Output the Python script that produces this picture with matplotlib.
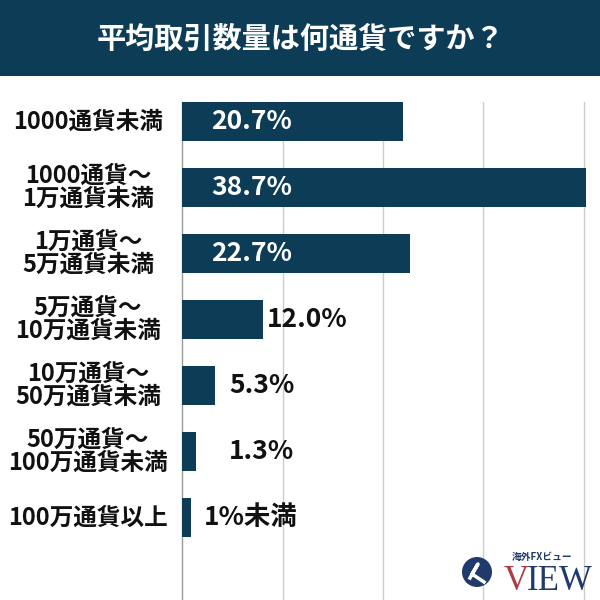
import matplotlib.pyplot as plt
import matplotlib.transforms as mtransforms
from matplotlib.patches import Rectangle, Circle

plt.rcParams['font.family'] = ['Noto Sans CJK JP', 'DejaVu Sans']

# データ
categories = ['1000通貨未満', '1000通貨〜\n1万通貨未満', '1万通貨〜\n5万通貨未満',
              '5万通貨〜\n10万通貨未満', '10万通貨〜\n50万通貨未満',
              '50万通貨〜\n100万通貨未満', '100万通貨以上']
bar_lengths = [22.0, 40.2, 22.7, 8.0, 3.3, 1.4, 0.9]
pct_labels = ['20.7%', '38.7%', '22.7%', '12.0%', '5.3%', '1.3%', '1%未満']
title = '平均取引数量は何通貨ですか？'

navy = '#0d3d56'

fig = plt.figure(figsize=(6, 6), dpi=100)

# タイトル帯
fig.patches.append(Rectangle((0, 1 - 76 / 600), 1, 76 / 600, transform=fig.transFigure,
                             facecolor=navy, edgecolor='none', zorder=0))
fig.text(0.5, 1 - 39 / 600, title, color='white', fontsize=21, fontweight='bold',
         ha='center', va='center')

ax = fig.add_axes([182.3 / 600, 0, 1 - 182.3 / 600, 1 - 102.3 / 600])
y = list(range(len(categories)))
ax.barh(y, bar_lengths, height=0.58, color=navy, zorder=3)
ax.set_xlim(0, (600 - 182.3) / 10.03)
ax.set_ylim(7.25, -0.29)

ax.set_xticks([10, 20, 30, 40])
ax.grid(axis='x', color='#cccccc', lw=1, zorder=0)
ax.tick_params(length=0, labelbottom=False, labelleft=False)
for s in ['top', 'right', 'bottom']:
    ax.spines[s].set_visible(False)
ax.spines['left'].set_color('#999999')
ax.spines['left'].set_linewidth(1)

# カテゴリラベル
trans = mtransforms.blended_transform_factory(fig.transFigure, ax.transData)
for i, c in enumerate(categories):
    ax.text(88 / 600, i, c, transform=trans, ha='center', va='center',
            fontsize=17, fontweight='bold', color='#111111', linespacing=0.98,
            multialignment='center')

# 数値ラベル
outside_pad = [0, 0, 0, 4, 14, 33, 13]  # px
for i, (v, lab) in enumerate(zip(bar_lengths, pct_labels)):
    if v > 20:
        ax.annotate(lab, (0, i), xytext=(28.5, 0), textcoords='offset pixels',
                    ha='left', va='center', color='white', fontsize=19, fontweight='bold')
    else:
        ax.annotate(lab, (v, i), xytext=(outside_pad[i], 0), textcoords='offset pixels',
                    ha='left', va='center', color='#111111', fontsize=19, fontweight='bold')

# ロゴ
fig.patches.append(Circle((477 / 600, 1 - 572 / 600), 15 / 600, transform=fig.transFigure,
                          facecolor='#1f3a6b', edgecolor='none', zorder=5))
fig.lines.append(plt.Line2D([470 / 600, 478 / 600, 472 / 600, 484 / 600],
                            [1 - 578 / 600, 1 - 564 / 600, 1 - 574 / 600, 1 - 582 / 600],
                            transform=fig.transFigure, color='white', lw=2.5, zorder=6))
fig.text(542 / 600, 1 - 557 / 600, '海外FXビュー', fontsize=7, fontweight='bold',
         color='#1f3a6b', ha='center', va='center')
fig.text(504 / 600, 1 - 581 / 600, 'V', fontsize=25, color='#b03a48', ha='left', va='center',
         family=['Liberation Serif'])
fig.text(527 / 600, 1 - 581 / 600, 'IEW', fontsize=25, color='#1f3a6b', ha='left', va='center',
         family=['Liberation Serif'])

fig.savefig('out.png', dpi=100, facecolor='white')
